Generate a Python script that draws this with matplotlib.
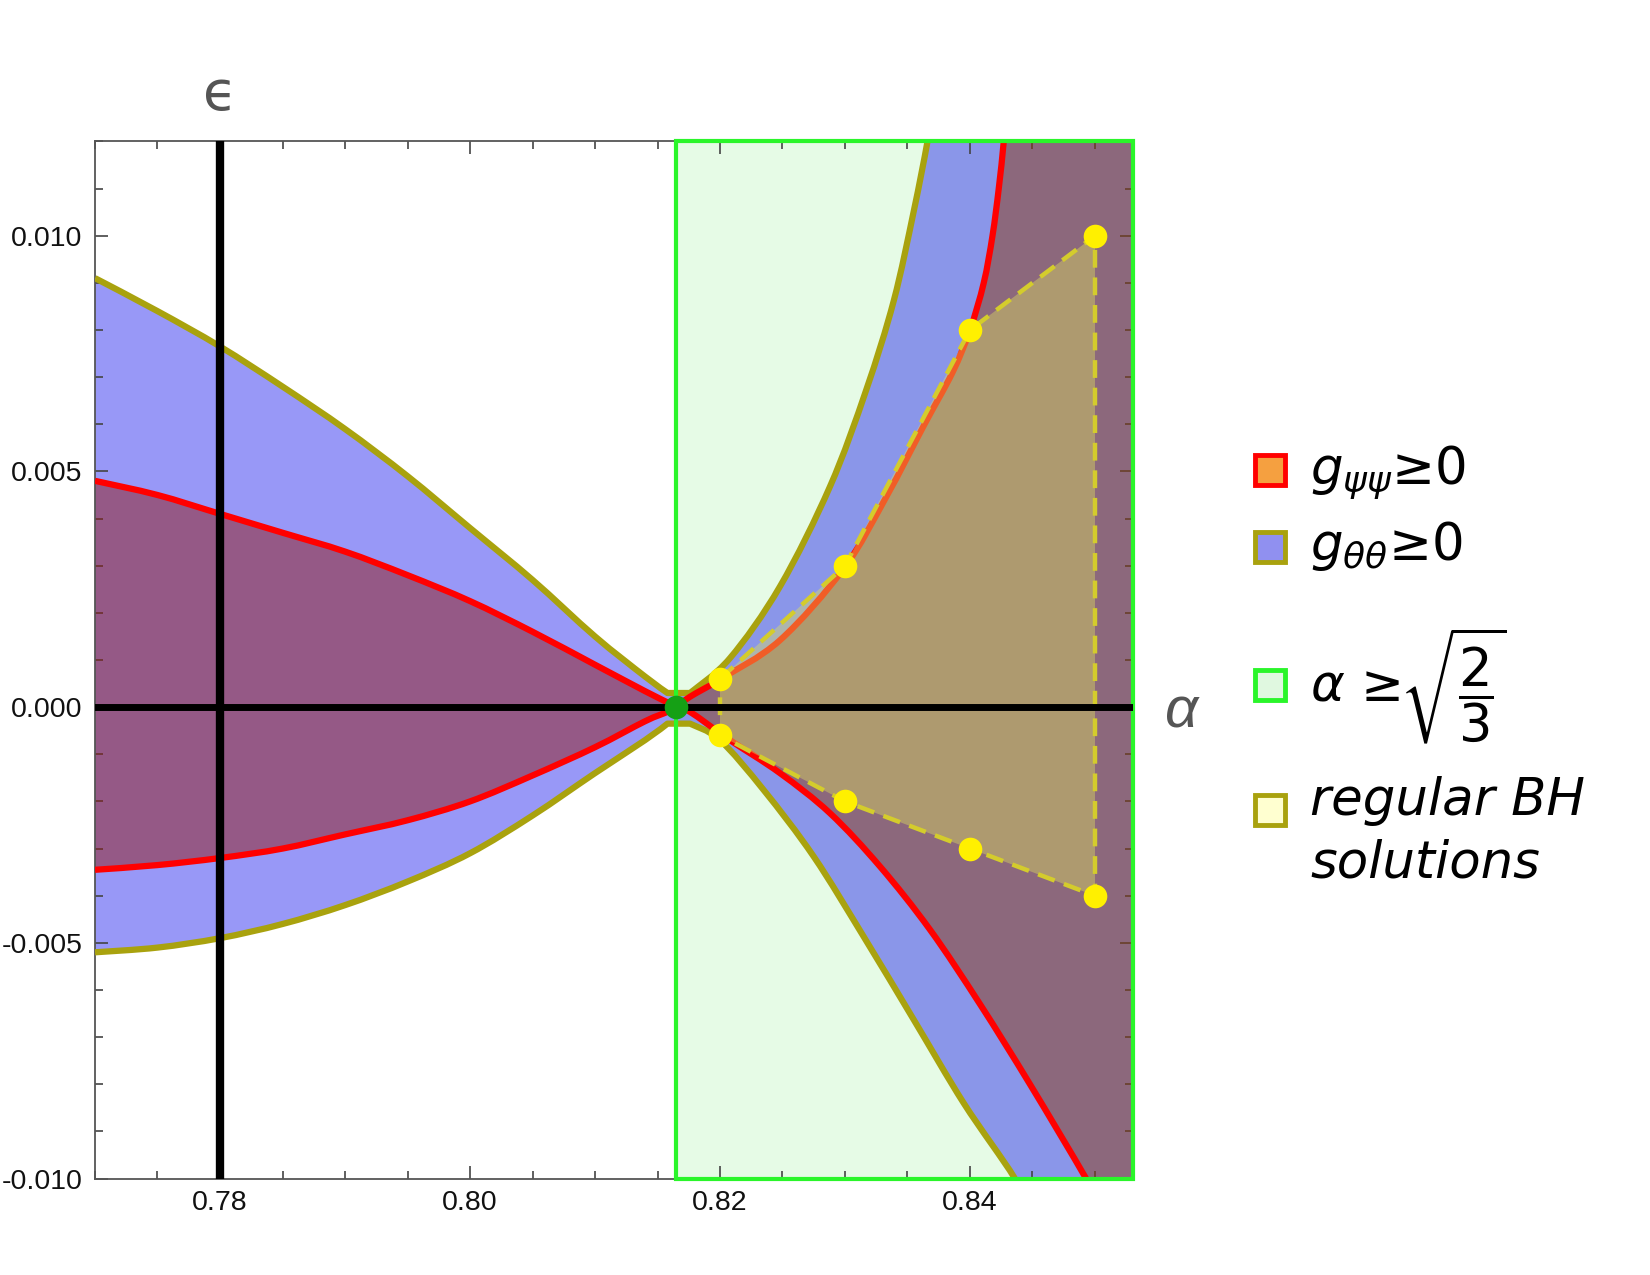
import numpy as np
import matplotlib.pyplot as plt
from matplotlib.patches import Rectangle, PathPatch
from matplotlib.path import Path
from matplotlib.ticker import MultipleLocator, FormatStrFormatter

plt.rcParams['mathtext.fontset'] = 'custom'
plt.rcParams['mathtext.rm'] = 'Liberation Sans'
plt.rcParams['mathtext.it'] = 'Liberation Sans:italic'
plt.rcParams['font.family'] = ['Liberation Sans', 'DejaVu Sans']
plt.rcParams['axes.unicode_minus'] = False

# bords des regions (alpha, epsilon)
alpha_c = np.sqrt(2 / 3)

alpha_l = [0.770, 0.775, 0.780, 0.785, 0.790, 0.795, 0.800, 0.805, 0.810, 0.814, 0.8158]
olive_up_l = [0.0091, 0.0084, 0.00765, 0.0068, 0.0059, 0.0049, 0.0038, 0.0027, 0.0015, 0.00065, 0.0003]
olive_lo_l = [-0.0052, -0.0051, -0.0049, -0.0046, -0.0042, -0.0037, -0.0031, -0.0023, -0.0014, -0.0007, -0.00035]
red_up_l = [0.0048, 0.0045, 0.0041, 0.0037, 0.0033, 0.0028, 0.00225, 0.0016, 0.0009, 0.00034, 0.0001]
red_lo_l = [-0.00345, -0.00335, -0.0032, -0.0030, -0.0027, -0.0024, -0.0020, -0.00145, -0.00085, -0.0003, -0.0001]

alpha_ou_r = [0.8176, 0.8208, 0.8248, 0.8288, 0.8317, 0.8339, 0.8355, 0.8366, 0.8372]
olive_up_r = [0.0003, 0.00104, 0.00256, 0.00468, 0.00673, 0.00862, 0.01052, 0.0120, 0.0130]
alpha_ol_r = [0.8176, 0.8200, 0.8235, 0.8275, 0.8315, 0.8355, 0.8395, 0.8435, 0.8440]
olive_lo_r = [-0.00035, -0.0007, -0.00176, -0.00317, -0.00487, -0.00663, -0.0084, -0.00996, -0.0104]

alpha_ru_r = [0.8176, 0.8200, 0.8248, 0.8299, 0.8333, 0.8363, 0.8386, 0.8400, 0.8411, 0.8418, 0.8423, 0.8427, 0.8430]
red_up_r = [0.00022, 0.00059, 0.00142, 0.00294, 0.00446, 0.00597, 0.0071, 0.0080, 0.0090, 0.0100, 0.0110, 0.0120, 0.0130]
alpha_rl_r = [0.8176, 0.8208, 0.8248, 0.8288, 0.8328, 0.8368, 0.8408, 0.8448, 0.8492, 0.8500]
red_lo_r = [-0.0001, -0.0007, -0.0014, -0.00225, -0.00338, -0.00472, -0.0063, -0.0080, -0.00996, -0.0104]

# solutions BH regulieres
bh_alpha = [0.82, 0.83, 0.84, 0.85]
bh_up = [0.0006, 0.003, 0.008, 0.010]
bh_lo = [-0.0006, -0.002, -0.003, -0.004]

XLIM = (0.770, 0.853)
YLIM = (-0.010, 0.012)
far_x = XLIM[1] + 0.005
far_top = YLIM[1] + 0.005
far_bot = YLIM[0] - 0.005


# courbe lisse (Catmull-Rom -> Bezier) passant par les points lus
def curve(xs, ys):
    P = np.column_stack([xs, ys])
    verts = [P[0]]
    codes = [Path.MOVETO]
    n = len(P)
    for i in range(n - 1):
        p0 = P[i - 1] if i > 0 else P[i]
        p1 = P[i]
        p2 = P[i + 1]
        p3 = P[i + 2] if i + 2 < n else P[i + 1]
        verts += [p1 + (p2 - p0) / 6, p2 - (p3 - p1) / 6, p2]
        codes += [Path.CURVE4] * 3
    return verts, codes


def join(*segs):
    verts, codes = [], []
    for v, c in segs:
        verts += list(v)
        codes += ([Path.LINETO] + list(c[1:])) if codes else list(c)
    return verts, codes


def reverse(seg):
    v, c = seg
    return v[::-1], [Path.MOVETO] + list(c[1:])[::-1]


def pts(*p):
    return list(p), [Path.MOVETO] + [Path.LINETO] * (len(p) - 1)


ou = join(curve(alpha_l, olive_up_l), curve(alpha_ou_r, olive_up_r))
ol = join(curve(alpha_l, olive_lo_l), curve(alpha_ol_r, olive_lo_r))
ru_l = curve(alpha_l + [alpha_c], red_up_l + [0.0])
rl_l = curve(alpha_l + [alpha_c], red_lo_l + [0.0])
ru_r = curve([alpha_c] + alpha_ru_r, [0.0] + red_up_r)
rl_r = curve([alpha_c] + alpha_rl_r, [0.0] + red_lo_r)
corners = pts((far_x, far_top), (far_x, far_bot))

fig = plt.figure(figsize=(16.5, 12.75), dpi=100)
ax = fig.add_axes([95 / 1650, 96.4 / 1275, 1037.5 / 1650, 1037.2 / 1275])
ax.set_xlim(XLIM)
ax.set_ylim(YLIM)


def fill(seg, color, a, z):
    v, c = seg
    ax.add_patch(PathPatch(Path(v, c), facecolor=color, alpha=a, edgecolor='none', zorder=z))


def stroke(seg, color, lw, z):
    v, c = seg
    ax.add_patch(PathPatch(Path(v, c), facecolor='none', edgecolor=color, lw=lw, zorder=z,
                           capstyle='butt', joinstyle='round'))


# region alpha >= sqrt(2/3)
ax.add_patch(Rectangle((alpha_c, YLIM[0]), XLIM[1] - alpha_c, YLIM[1] - YLIM[0],
                       facecolor='#e6fbe6', edgecolor='none', zorder=0.5))

# g_theta_theta >= 0
fill(join(ou, corners, reverse(ol)), '#1515ef', 0.44, 1)
# g_psi_psi >= 0
fill(join(ru_l, reverse(rl_l)), '#941c16', 0.5, 2)
fill(join(ru_r, corners, reverse(rl_r)), '#8e3c10', 0.5, 2)

olive = '#a9a20e'
stroke(ou, olive, 4.5, 4)
stroke(ol, olive, 4.5, 4)
stroke(join(ru_l, ru_r), '#ff0000', 4.5, 5)
stroke(join(rl_l, rl_r), '#ff0000', 4.5, 5)

# triangle des solutions
tri_a = bh_alpha + bh_alpha[::-1]
tri_e = bh_up + bh_lo[::-1]
ax.fill(tri_a, tri_e, color='#dfe05e', alpha=0.42, lw=0, zorder=6)
ax.plot(tri_a + tri_a[:1], tri_e + tri_e[:1], color='#d4cc2c', lw=3.2,
        linestyle=(0, (4.0, 2.2)), zorder=7)

# cadre vert
ax.add_patch(Rectangle((alpha_c, YLIM[0]), XLIM[1] - alpha_c, YLIM[1] - YLIM[0],
                       facecolor='none', edgecolor='#2af52a', lw=3, zorder=8, clip_on=False))

ax.axvline(0.78, color='black', lw=6, zorder=9)
ax.axhline(0.0, color='black', lw=5, zorder=9)

ax.plot(bh_alpha + bh_alpha, bh_up + bh_lo, 'o', color='#fff000', ms=17, mec='none', zorder=10)
ax.plot([alpha_c], [0.0], 'o', color='#15a015', ms=17, mec='none', zorder=11, clip_on=False)

# axes
ax.set_xticks([0.78, 0.80, 0.82, 0.84])
ax.set_yticks([-0.010, -0.005, 0.000, 0.005, 0.010])
ax.xaxis.set_minor_locator(MultipleLocator(0.005))
ax.yaxis.set_minor_locator(MultipleLocator(0.001))
ax.xaxis.set_major_formatter(FormatStrFormatter('%.2f'))
ax.yaxis.set_major_formatter(FormatStrFormatter('%.3f'))
ax.tick_params(which='both', direction='in', top=True, right=True, color='#444444',
               labelsize=20.5, labelcolor='#111111', width=1.2)
ax.tick_params(which='major', length=9.5)
ax.tick_params(which='minor', length=6)
ax.tick_params(axis='y', pad=9)
ax.tick_params(axis='x', pad=8)
for s in ax.spines.values():
    s.set_color('#555555')
    s.set_linewidth(1.3)

ax.text(0.78, 0.01298, '\u03f5', fontsize=40, color='#555555', ha='center', va='center',
        family=['DejaVu Sans'])
ax.text(0.8555, -0.0001, '$\\alpha$', fontsize=42, color='#555555', ha='left', va='center')


# legende
def fx(px):
    return px / 1650


def fy(py):
    return 1 - py / 1275


sw = [('#f5a040', '#ff0000', 470), ('#9090f0', olive, 547), ('#e0f8e0', '#2af52a', 685), ('#ffffd0', olive, 810)]
for face, edge, yc in sw:
    fig.add_artist(Rectangle((fx(1255), fy(yc + 15)), 30 / 1650, 30 / 1275, transform=fig.transFigure,
                             facecolor=face, edgecolor=edge, lw=3.5))

leg = dict(fontsize=37, va='baseline', family=['DejaVu Sans'], math_fontfamily='dejavusans')
fig.text(fx(1310), fy(484), '$g_{\\psi\\psi}$\u22650', **leg)
fig.text(fx(1310), fy(560), '$g_{\\theta\\theta}$\u22650', **leg)
fig.text(fx(1310), fy(700), '$\\alpha$ \u2265', **leg)
fig.text(fx(1400), fy(686), '$\\sqrt{\\dfrac{2}{3}}$', fontsize=38, va='center',
         family=['DejaVu Sans'], math_fontfamily='dejavusans')
fig.text(fx(1310), fy(815), 'regular BH', style='italic', **leg)
fig.text(fx(1310), fy(878), 'solutions', style='italic', **leg)

fig.savefig('out.png', dpi=100)
